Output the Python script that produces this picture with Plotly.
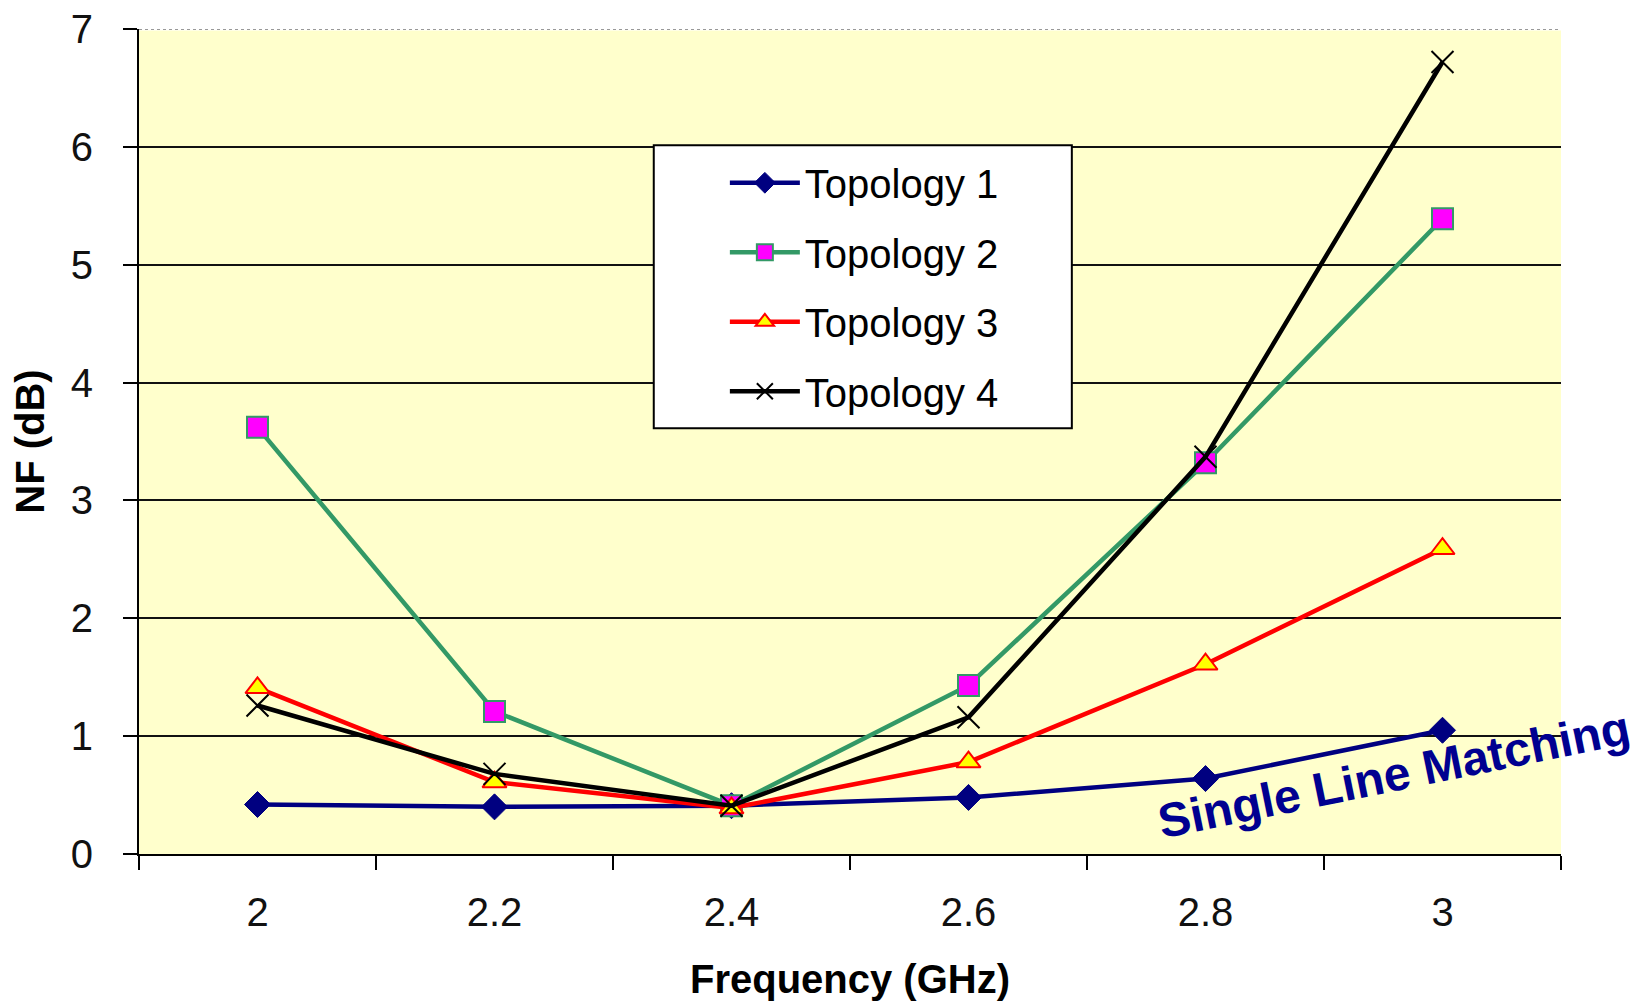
import plotly.graph_objects as go

freq = ["2", "2.2", "2.4", "2.6", "2.8", "3"]
topology1 = [0.42, 0.40, 0.41, 0.48, 0.64, 1.05]
topology2 = [3.62, 1.21, 0.41, 1.43, 3.32, 5.39]
topology3 = [1.41, 0.61, 0.39, 0.78, 1.61, 2.59]
topology4 = [1.26, 0.68, 0.41, 1.16, 3.37, 6.72]
series_names = ["Topology 1", "Topology 2", "Topology 3", "Topology 4"]
y_ticks = [0, 1, 2, 3, 4, 5, 6, 7]

FONT = "Liberation Sans, Arial, sans-serif"

fig = go.Figure()
styles = [
    dict(line=dict(color="#000080", width=4.5),
         marker=dict(symbol="diamond", size=20, color="#000080",
                     line=dict(color="#000080", width=1))),
    dict(line=dict(color="#339966", width=4.5),
         marker=dict(symbol="square", size=21, color="#FF00FF",
                     line=dict(color="#339966", width=2))),
    dict(line=dict(color="#FF0000", width=4.5),
         marker=dict(symbol="triangle-up", size=21, color="#FFFF00",
                     line=dict(color="#FF0000", width=2))),
    dict(line=dict(color="#000000", width=4.5),
         marker=dict(symbol="x-thin", size=22, color="#000000",
                     line=dict(color="#000000", width=2))),
]
for name, vals, st, grp in zip(series_names, [topology1, topology2, topology3, topology4],
                               styles, ["g1", "g2", "g3", "g4"]):
    fig.add_trace(go.Scatter(x=freq, y=vals, name=name, mode="lines+markers",
                             legendgroup=grp, cliponaxis=False, **st))

fig.update_layout(
    width=1635, height=1002,
    margin=dict(l=139, r=74, t=29, b=148),
    paper_bgcolor="white",
    plot_bgcolor="#FFFFCC",
    font=dict(family=FONT, color="#000000", size=40),
    showlegend=True,
    legend=dict(
        x=0.412, y=0.853, xanchor="left", yanchor="top",
        bgcolor="rgba(0,0,0,0)", borderwidth=0,
        font=dict(family=FONT, size=40, color="#000000"),
        tracegroupgap=14.5, itemwidth=70,
    ),
    xaxis=dict(
        type="category", range=[-0.5, 5.5], automargin=False,
        tickson="boundaries", ticks="outside", ticklen=14, tickwidth=2,
        tickcolor="#000000", showgrid=False, showline=True,
        linecolor="#000000", linewidth=2, zeroline=False,
        tickfont=dict(family=FONT, size=40, color="#111111"),
        ticklabelstandoff=22,
        title=dict(text="<b>Frequency (GHz)</b>",
                   font=dict(family=FONT, size=40, color="#000000"),
                   standoff=32),
    ),
    yaxis=dict(
        range=[0, 7], tickvals=y_ticks, ticks="outside", ticklen=14,
        automargin=False,
        tickwidth=2, tickcolor="#000000", showgrid=True,
        gridcolor="#111111", gridwidth=2, showline=True,
        linecolor="#000000", linewidth=2, zeroline=False,
        tickfont=dict(family=FONT, size=40, color="#111111"),
        ticklabelstandoff=22,
        title=dict(text="<b>NF (dB)</b>",
                   font=dict(family=FONT, size=40, color="#000000"),
                   standoff=14),
    ),
    shapes=[
        dict(type="line", xref="paper", yref="y", x0=0, x1=1, y0=7, y1=7,
             line=dict(color="white", width=3), layer="above"),
        dict(type="line", xref="paper", yref="y", x0=0, x1=1, y0=7, y1=7,
             line=dict(color="#999999", width=2, dash="dot"), layer="above"),
        dict(type="rect", xref="paper", yref="paper", x0=0.362, x1=0.656,
             y0=0.516, y1=0.859, fillcolor="white",
             line=dict(color="#000000", width=2), layer="above"),
    ],
    annotations=[
        dict(text="<b>Single Line Matching</b>", xref="paper", yref="paper",
             x=0.8826, y=0.096, xanchor="center", yanchor="middle",
             showarrow=False, textangle=-11.5,
             font=dict(family=FONT, size=48, color="#000090")),
    ],
)

fig.write_html("out.html")
